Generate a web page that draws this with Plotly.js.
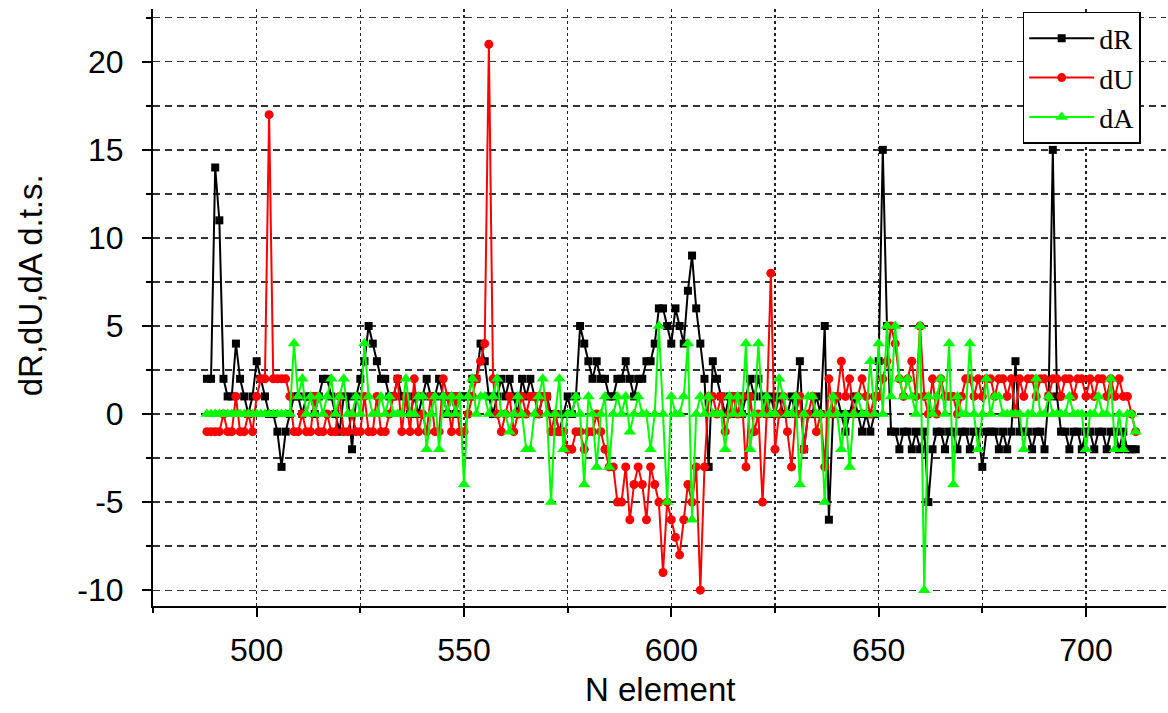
<!DOCTYPE html>
<html>
<head>
<meta charset="utf-8">
<script src="https://cdn.plot.ly/plotly-3.0.1.min.js"></script>
<style>html,body{margin:0;padding:0;background:#fff;}#chart{width:1168px;height:713px;}</style>
</head>
<body>
<div id="chart"></div>
<script>
// N element index: first and last element numbers
const nFirst = 488;
const nLast = 712;

// dR series (black squares), one value per element 488..712
const dR = [
  2, 2, 14, 11, 2, 1, 1, 4, 2, 1,
  0, 1, 3, 2, 1, 0, 0, -1, -3, -1,
  0, 1, 1, 0, 1, 1, 0, 1, 2, 2,
  1, 0, -1, 1, 1, -2, 1, 2, 3, 5,
  4, 3, 2, 2, 1, 1, 2, 1, 1, 0,
  1, 0, 1, 2, 1, 1, 2, 1, 0, 1,
  0, 1, 1, 1, 2, 2, 4, 3, 1, 0,
  1, 2, 1, 2, 1, 0, 2, 1, 2, 1,
  0, 1, 1, 0, 0, -1, 0, 1, 0, 1,
  5, 4, 3, 2, 3, 2, 2, 1, 1, 2,
  2, 3, 2, 1, 2, 2, 3, 3, 4, 6,
  6, 5, 4, 6, 5, 4, 7, 9, 6, 4,
  2, -3, 3, 2, 1, 0, 1, 0, 1, 0,
  1, 2, 1, 2, 1, 0, 1, 0, 1, 0,
  0, 1, 0, 3, -2, 0, 0, 1, 0, 5,
  -6, 0, 1, 0, -1, 0, 1, 0, -1, 0,
  -1, 0, 3, 15, 5, -1, -1, -2, -1, -1,
  -2, -1, -2, -1, -5, -2, -1, -1, -2, -1,
  -1, -2, -1, -1, -2, -1, -1, -3, -1, -1,
  -1, -2, -1, -2, -1, 3, -1, -1, -1, -2,
  -1, -1, -2, 1, 15, 1, -1, -1, -2, -1,
  -1, -2, -1, -1, -2, -1, -1, -2, -1, -1,
  -2, -1, -2, -2, -2
];

// dU series (red circles)
const dU = [
  -1, -1, -1, -1, 0, -1, -1, 1, -1, -1,
  0, -1, 1, 2, 2, 17, 2, 2, 2, 2,
  1, -1, -1, 0, -1, -1, 1, -1, -1, 0,
  -1, -1, 1, -1, -1, 0, -1, -1, 1, -1,
  -1, 1, -1, -1, 0, 1, 2, -1, 1, -1,
  2, -1, 0, -1, 1, -1, -1, 2, 1, -1,
  1, -1, -1, 0, 1, 2, 3, 4, 21, 2,
  0, -1, 0, 1, -1, 0, 1, 0, 1, 1,
  0, 1, 1, -1, 0, -1, -1, -2, -2, -1,
  -1, -2, -1, -1, 0, -1, -2, -3, -3, -5,
  -5, -3, -6, -4, -3, -4, -6, -3, -4, -5,
  -9, -5, -6, -7, -8, -6, -4, -5, -3, -10,
  -3, 1, 1, 0, 1, -1, 0, 1, 0, 1,
  -3, 1, -1, 0, -5, 0, 8, -2, 0, 1,
  -1, -3, 0, 1, -2, 0, 1, -1, 0, -3,
  2, 0, 1, 3, 1, 2, 0, 1, 2, 1,
  0, 1, 1, 2, 3, 5, 4, 2, 1, 2,
  3, 1, 5, 1, 0, 2, 0, 2, 1, 1,
  1, 0, 1, 2, 2, 1, 2, 1, 2, 2,
  1, 2, 2, 1, 2, 0, 2, 1, 2, 2,
  1, 2, 2, 1, 2, 2, 1, 2, 2, 1,
  2, 2, 1, 2, 1, 2, 2, 1, 2, 1,
  2, 1, 1, 0, -1
];

// dA series (green triangles)
const dA = [
  0, 0, 0, 0, 0, 0, 0, 0, 0, 0,
  0, 0, 0, 0, 0, 0, 0, 0, 0, 0,
  0, 4, 1, 2, 0, 1, 0, 1, 0, 1,
  2, 0, 1, 2, 0, 0, 1, 0, 4, 1,
  0, 0, 1, 0, 1, 0, 0, 0, 2, 0,
  0, 1, 1, -2, 0, 1, -2, 1, 0, 1,
  0, 1, -4, 1, 2, 0, 1, 1, 0, 1,
  2, 0, 0, -1, 0, 1, 0, -2, -2, 0,
  1, 2, 0, -5, 0, 2, -2, 0, 0, 1,
  0, -4, 1, 0, -3, 0, 1, -3, 0, 1,
  0, 1, -1, 0, 1, 0, 0, -2, 0, 5,
  0, -5, 1, 0, 0, 1, 4, -6, 0, 1,
  0, 1, 0, 0, 0, -2, 1, 0, 1, 0,
  4, -2, 0, 4, 0, 1, 0, 0, 2, 1,
  0, 0, 1, -4, 0, 1, 1, 0, 0, -5,
  0, 1, 0, -2, 0, -3, 0, 1, 0, 0,
  3, 0, 4, 0, 5, 1, 5, 2, 1, 2,
  1, 0, 5, -10, 1, 0, 1, 2, 0, 4,
  -4, 1, 0, 0, 4, 0, -2, 0, 2, 0,
  1, 1, 0, 0, 0, 0, 0, -2, 0, 0,
  2, 0, 0, 1, 0, 0, 0, 0, 1, 0,
  0, 0, -2, 0, 0, 1, 0, 0, 2, -2,
  0, -2, 0, 0, -1
];

const seriesNames = ['dR', 'dU', 'dA'];
const xTitle = 'N element';
const yTitle = 'dR,dU,dA d.t.s.';
const xTickVals = [500, 550, 600, 650, 700];
const xTickText = ['500', '550', '600', '650', '700'];
const yTickVals = [-10, -5, 0, 5, 10, 15, 20];
const yTickText = ['-10', '-5', '0', '5', '10', '15', '20'];

const N = [];
for (let n = nFirst; n <= nLast; n++) N.push(n);

const mk = (name, y, color, symbol, size) => ({
  type: 'scatter', mode: 'lines+markers', name: name,
  x: N, y: y,
  line: {color: color, width: 2},
  marker: {color: color, symbol: symbol, size: size, line: {width: 0}}
});

const data = [
  mk(seriesNames[0], dR, '#000000', 'square', 8),
  mk(seriesNames[1], dU, '#ff0000', 'circle', 9),
  mk(seriesNames[2], dA, '#00ff00', 'triangle-up', 11)
];

const axisFont = {family: 'Liberation Sans, Arial, sans-serif', size: 32, color: '#000'};
const titleFont = {family: 'Liberation Sans, Arial, sans-serif', size: 33, color: '#000'};

const layout = {
  width: 1168, height: 713,
  margin: {l: 153, r: 2, t: 9, b: 107},
  paper_bgcolor: '#ffffff', plot_bgcolor: '#ffffff',
  showlegend: true,
  legend: {
    x: 0.975, y: 0.995, xanchor: 'right', yanchor: 'top',
    bgcolor: '#ffffff', bordercolor: '#000000', borderwidth: 1.5,
    font: {family: 'Liberation Serif, Times New Roman, serif', size: 28, color: '#000'},
    tracegroupgap: 0, itemsizing: 'trace', itemwidth: 65
  },
  xaxis: {
    range: [475, 719.3], tickmode: 'array', tickvals: xTickVals, ticktext: xTickText,
    showline: true, linecolor: '#000', linewidth: 2, mirror: false,
    ticks: 'outside', ticklen: 9, tickwidth: 2, tickcolor: '#000',
    ticklabelstandoff: 6,
    showgrid: true, gridcolor: '#222', gridwidth: 1.3, griddash: 'dot',
    zeroline: false, tickfont: axisFont,
    minor: {dtick: 25, tick0: 475, ticks: 'outside', ticklen: 5, tickwidth: 2, tickcolor: '#000',
            showgrid: true, gridcolor: '#222', gridwidth: 1.3, griddash: 'dot'}
  },
  yaxis: {
    range: [-10.9, 23], tickmode: 'array', tickvals: yTickVals, ticktext: yTickText,
    showline: true, linecolor: '#000', linewidth: 2, mirror: false,
    ticks: 'outside', ticklen: 9, tickwidth: 2, tickcolor: '#000',
    ticklabelstandoff: 12,
    showgrid: true, gridcolor: '#333', gridwidth: 1.3, griddash: '7px,5px',
    zeroline: false, tickfont: axisFont,
    minor: {dtick: 2.5, tick0: 0, ticks: 'outside', ticklen: 5, tickwidth: 2, tickcolor: '#000',
            showgrid: true, gridcolor: '#333', gridwidth: 1.3, griddash: '7px,5px'}
  },
  annotations: [
    {text: xTitle, xref: 'paper', yref: 'paper', x: 0.5, y: -0.1407, xanchor: 'center', yanchor: 'middle',
     showarrow: false, font: titleFont},
    {text: yTitle, xref: 'paper', yref: 'paper', x: -0.121, y: 0.538, xanchor: 'center', yanchor: 'middle',
     textangle: -90, showarrow: false, font: titleFont}
  ]
};

Plotly.newPlot('chart', data, layout, {displayModeBar: false, staticPlot: true});
</script>
</body>
</html>
